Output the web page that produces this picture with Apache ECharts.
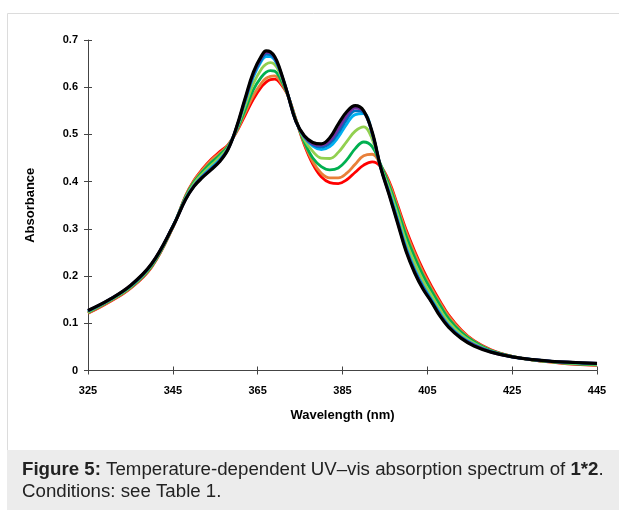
<!DOCTYPE html>
<html>
<head>
<meta charset="utf-8">
<script src="https://cdn.jsdelivr.net/npm/echarts@6/dist/echarts.min.js"></script>
<style>
html,body{margin:0;padding:0;background:#fff;}
#c{width:619px;height:510px;}
</style>
</head>
<body>
<div id="c"></div>
<script>
const wavelengths = [325,330,335,340,345,348,350,352,354,356,358,360,362,364,366,367,368,369,370,372,374,376,378,380,382,384,386,388,390,392,394,396,398,400,402,404,406,408,410,413,416,420,425,430,435,440,445];

const absRed    = [.121,.145,.174,.219,.303,.370,.403,.427,.447,.463,.478,.505,.540,.575,.602,.611,.616,.617,.612,.585,.532,.478,.437,.410,.398,.396,.404,.420,.435,.442,.432,.400,.350,.298,.253,.213,.178,.147,.118,.086,.063,.044,.030,.022,.017,.013,.011];
const absOrange = [.122,.146,.175,.220,.303,.369,.402,.425,.445,.460,.477,.506,.545,.583,.610,.619,.623,.624,.617,.585,.531,.481,.442,.418,.408,.408,.418,.437,.455,.458,.435,.397,.346,.293,.248,.208,.174,.143,.115,.084,.062,.043,.030,.022,.017,.014,.011];
const absGreen  = [.123,.147,.176,.221,.304,.368,.399,.421,.440,.456,.475,.508,.551,.595,.623,.632,.635,.634,.624,.586,.531,.484,.450,.432,.425,.429,.446,.470,.484,.474,.436,.392,.340,.285,.240,.201,.168,.138,.110,.081,.061,.042,.030,.022,.018,.014,.012];
const absLightGreen = [.124,.148,.177,.223,.304,.366,.396,.417,.434,.451,.472,.511,.560,.608,.640,.649,.652,.648,.634,.587,.530,.489,.464,.450,.449,.462,.485,.507,.516,.490,.432,.385,.330,.272,.228,.190,.159,.129,.103,.076,.058,.041,.029,.023,.018,.015,.013];
const absCyan   = [.126,.149,.179,.225,.305,.364,.392,.412,.429,.446,.470,.513,.569,.622,.657,.665,.665,.658,.640,.588,.528,.494,.475,.468,.474,.494,.522,.542,.544,.503,.430,.378,.320,.260,.215,.179,.150,.121,.096,.071,.055,.040,.029,.023,.019,.016,.014];
const absBlue   = [.126,.150,.179,.225,.305,.363,.391,.411,.427,.444,.469,.514,.571,.626,.661,.670,.669,.660,.642,.588,.528,.495,.478,.473,.481,.503,.532,.550,.546,.502,.430,.375,.316,.257,.212,.177,.148,.119,.095,.070,.054,.040,.029,.023,.019,.017,.015];
const absPurple = [.127,.150,.180,.226,.305,.362,.391,.410,.426,.443,.469,.514,.573,.629,.665,.674,.673,.663,.643,.588,.528,.496,.480,.477,.486,.511,.540,.556,.549,.503,.430,.373,.314,.254,.209,.174,.145,.117,.093,.069,.054,.039,.029,.023,.019,.017,.015];
const absBlack  = [.127,.150,.180,.226,.305,.362,.390,.409,.425,.442,.468,.515,.575,.632,.668,.677,.675,.665,.645,.588,.528,.497,.483,.480,.493,.522,.548,.561,.550,.505,.430,.372,.312,.252,.207,.172,.145,.115,.092,.068,.052,.039,.029,.023,.019,.017,.015];

const seriesDefs = [
  {name:'red', color:'#ff0000', data:absRed},
  {name:'orange', color:'#e8803a', data:absOrange},
  {name:'green', color:'#00b050', data:absGreen},
  {name:'lightgreen', color:'#92d050', data:absLightGreen},
  {name:'cyan', color:'#00b0f0', data:absCyan},
  {name:'blue', color:'#0070c0', data:absBlue},
  {name:'purple', color:'#7030a0', data:absPurple},
  {name:'black', color:'#000000', data:absBlack}
];

const xTicks = {min:325, max:445, interval:20};
const yTicks = {min:0, max:0.7, interval:0.1};

const chart = echarts.init(document.getElementById('c'), null, {renderer:'canvas'});
const axisColor = '#444';
const FF = 'Liberation Sans, Arial, sans-serif';
const lblFont = {color:'#000', fontWeight:'bold', fontSize:11, fontFamily:FF};

chart.setOption({
  backgroundColor:'#ffffff',
  animation:false,
  grid: {left:88, top:40, width:509, height:330.5},
  graphic: [
    {type:'rect', z:-10, shape:{x:7.5, y:13.5, width:620, height:440}, style:{fill:'#fff', stroke:'#dcdcdc', lineWidth:1}},
    {type:'rect', z:-9, shape:{x:7, y:450, width:612, height:60}, style:{fill:'#ececec'}},
    {type:'text', left:22, top:459, z:10, style:{
      text:'{b|Figure 5:} Temperature-dependent UV–vis absorption spectrum of {b|1*2}.\nConditions: see Table 1.',
      fontSize:18.7, lineHeight:22, fill:'#222', fontFamily:FF,
      rich:{b:{fontWeight:'bold', fontSize:18.7, fill:'#222', fontFamily:FF}}
    }}
  ],
  xAxis: [{
    type:'value', min:xTicks.min, max:xTicks.max, interval:xTicks.interval,
    name:'Wavelength (nm)', nameLocation:'middle', nameGap:38,
    nameTextStyle:{color:'#000', fontWeight:'bold', fontSize:13, fontFamily:FF},
    axisLine:{show:true, onZero:false, lineStyle:{color:axisColor, width:1}},
    axisTick:{show:true, inside:false, length:4, lineStyle:{color:axisColor}},
    axisLabel:{...lblFont, margin:15},
    splitLine:{show:false}
  },{
    type:'value', min:xTicks.min, max:xTicks.max, interval:xTicks.interval, position:'bottom',
    axisLine:{show:false}, axisTick:{show:true, inside:true, length:4, lineStyle:{color:axisColor}},
    axisLabel:{show:false}, splitLine:{show:false}
  }],
  yAxis: [{
    type:'value', min:yTicks.min, max:yTicks.max, interval:yTicks.interval,
    name:'Absorbance', nameLocation:'middle', nameGap:51, nameRotate:90,
    nameTextStyle:{color:'#000', fontWeight:'bold', fontSize:13, fontFamily:FF},
    axisLine:{show:true, onZero:false, lineStyle:{color:axisColor, width:1}},
    axisTick:{show:true, inside:false, length:4, lineStyle:{color:axisColor}},
    axisLabel:{...lblFont, margin:10, formatter:(v)=> v===0 ? '0' : v.toFixed(1)},
    splitLine:{show:false}
  },{
    type:'value', min:yTicks.min, max:yTicks.max, interval:yTicks.interval, position:'left',
    axisLine:{show:false}, axisTick:{show:true, inside:true, length:4, lineStyle:{color:axisColor}},
    axisLabel:{show:false}, splitLine:{show:false}
  }],
  series: seriesDefs.map(s => ({
    name:s.name, type:'line', smooth:0.4, symbol:'none',
    xAxisIndex:0, yAxisIndex:0,
    data: wavelengths.map((w,i)=>[w, s.data[i]]),
    lineStyle:{color:s.color, width: s.name==='black' ? 3.2 : 2.8},
    itemStyle:{color:s.color},
    clip:false
  }))
});
</script>
</body>
</html>
